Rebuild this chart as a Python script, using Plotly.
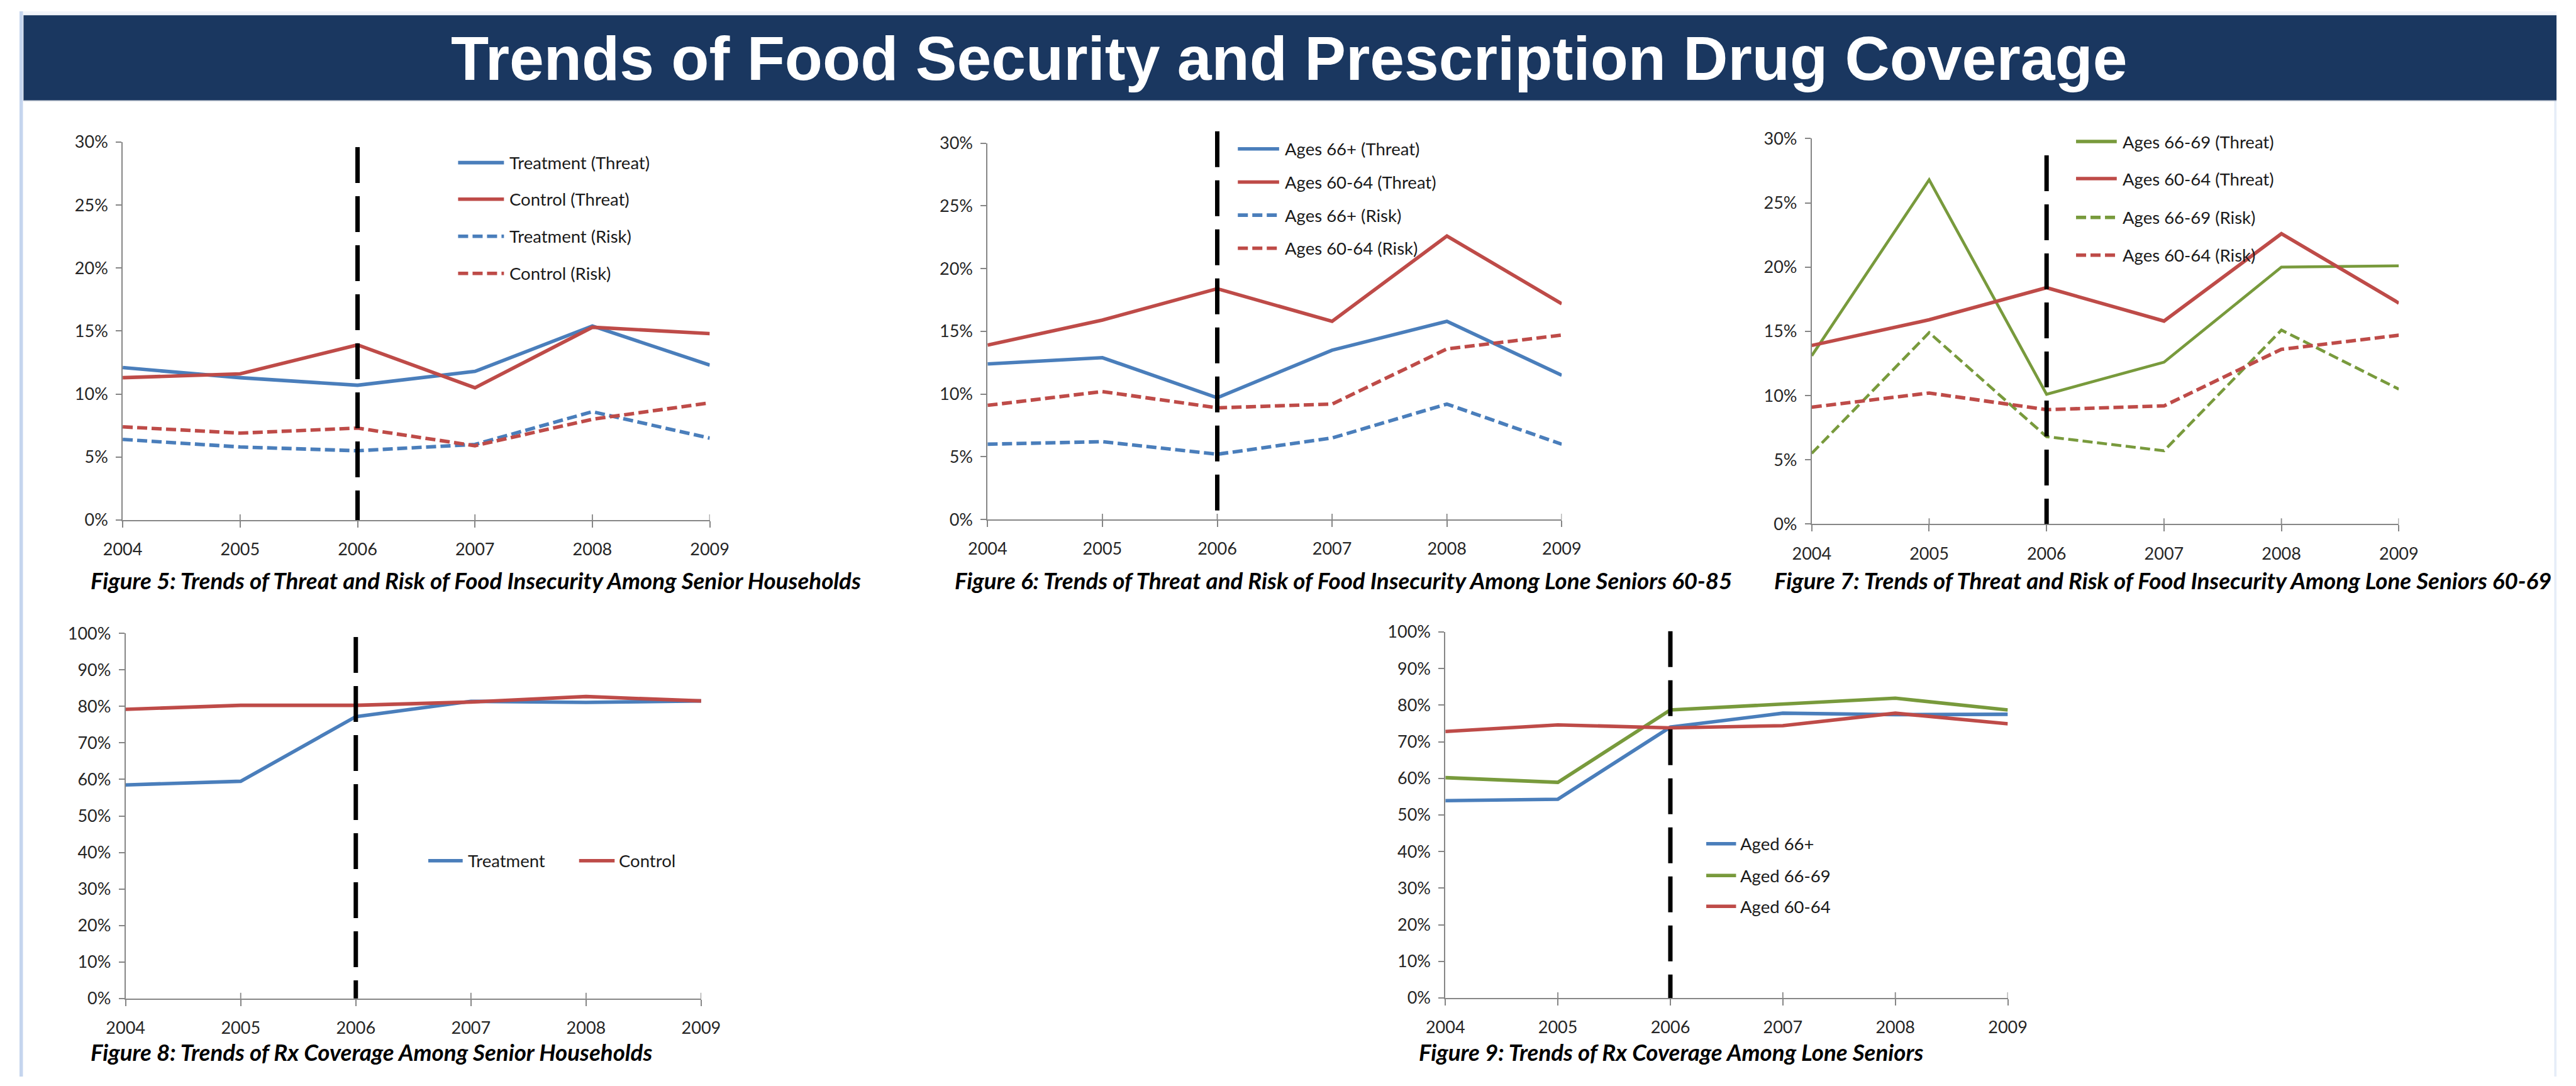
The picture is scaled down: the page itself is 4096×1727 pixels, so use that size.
import plotly.graph_objects as go

# ---------------- data ----------------
years = [2004, 2005, 2006, 2007, 2008, 2009]
year_labels = [str(y) for y in years]
cutoff_year = 2006

# Figure 5: senior households, food insecurity (%)
fig5_names = ["Treatment (Threat)", "Control (Threat)", "Treatment (Risk)", "Control (Risk)"]
fig5_treatment_threat = [12.1, 11.3, 10.7, 11.8, 15.4, 12.3]
fig5_control_threat = [11.3, 11.6, 13.9, 10.5, 15.3, 14.8]
fig5_treatment_risk = [6.4, 5.8, 5.5, 6.0, 8.6, 6.5]
fig5_control_risk = [7.4, 6.9, 7.3, 5.9, 8.0, 9.3]

# Figure 6: lone seniors 60-85 (%)
fig6_names = ["Ages 66+ (Threat)", "Ages 60-64 (Threat)", "Ages 66+ (Risk)", "Ages 60-64 (Risk)"]
fig6_66plus_threat = [12.4, 12.9, 9.7, 13.5, 15.8, 11.5]
fig6_6064_threat = [13.9, 15.9, 18.4, 15.8, 22.6, 17.2]
fig6_66plus_risk = [6.0, 6.2, 5.2, 6.5, 9.2, 6.0]
fig6_6064_risk = [9.1, 10.2, 8.9, 9.2, 13.6, 14.7]

# Figure 7: lone seniors 60-69 (%)
fig7_names = ["Ages 66-69 (Threat)", "Ages 60-64 (Threat)", "Ages 66-69 (Risk)", "Ages 60-64 (Risk)"]
fig7_6669_threat = [13.1, 26.8, 10.1, 12.6, 20.0, 20.1]
fig7_6064_threat = [13.9, 15.9, 18.4, 15.8, 22.6, 17.2]
fig7_6669_risk = [5.5, 14.9, 6.8, 5.7, 15.1, 10.5]
fig7_6064_risk = [9.1, 10.2, 8.9, 9.2, 13.6, 14.7]

# Figure 8: Rx coverage, senior households (%)
fig8_names = ["Treatment", "Control"]
fig8_treatment = [58.5, 59.5, 77.2, 81.4, 81.1, 81.5]
fig8_control = [79.2, 80.3, 80.3, 81.2, 82.7, 81.5]

# Figure 9: Rx coverage, lone seniors (%)
fig9_names = ["Aged 66+", "Aged 66-69", "Aged 60-64"]
fig9_66plus = [53.9, 54.3, 74.0, 77.8, 77.4, 77.5]
fig9_6669 = [60.2, 58.9, 78.7, 80.3, 81.9, 78.7]
fig9_6064 = [72.8, 74.6, 73.8, 74.4, 77.8, 74.9]

captions = [
    "Figure 5: Trends of Threat and Risk of Food Insecurity Among Senior Households",
    "Figure 6: Trends of Threat and Risk of Food Insecurity Among Lone Seniors 60-85",
    "Figure 7: Trends of Threat and Risk of Food Insecurity Among Lone Seniors 60-69",
    "Figure 8: Trends of Rx Coverage Among Senior Households",
    "Figure 9: Trends of Rx Coverage Among Lone Seniors",
]
title_text = "Trends of Food Security and Prescription Drug Coverage"
y_max = [30, 30, 30, 100, 100]
y_step = [5, 5, 5, 10, 10]
cutoff_top = [29.6, 30.95, 28.7, 99.0, 100.2]   # how far the 2006 marker reaches

# ---------------- styling / geometry ----------------
W, H = 4096, 1727
S = W / 4425.0


def fx(x):
    return x * S / W


def fy(y):
    return 1 - y * S / H


BLUE = "#4a7ebb"
RED = "#be4b48"
GREEN = "#789a3c"
AXIS = "#868686"
FONT = "Lato, Carlito, Calibri, sans-serif"
DOT = "16px,7px"
LW = 5.6
TICK_FONT = dict(family=FONT, size=27, color="#262626")

# plot boxes in reference pixels: x-left, x-right, y-top, y-bottom
boxes = [
    (180, 1204, 229, 891),
    (1688.5, 2690, 231, 890),
    (3126, 4150, 223, 898),
    (185, 1189, 1089.5, 1729),
    (2487, 3468, 1087, 1728),
]
caption_pos = [(122, 996.5), (1629, 996.5), (3058, 996.5), (122, 1822.7), (2439, 1822.7)]

series = [
    [(fig5_names[0], fig5_treatment_threat, BLUE, "solid", LW),
     (fig5_names[1], fig5_control_threat, RED, "solid", LW),
     (fig5_names[2], fig5_treatment_risk, BLUE, DOT, LW),
     (fig5_names[3], fig5_control_risk, RED, DOT, LW)],
    [(fig6_names[0], fig6_66plus_threat, BLUE, "solid", LW),
     (fig6_names[1], fig6_6064_threat, RED, "solid", LW),
     (fig6_names[2], fig6_66plus_risk, BLUE, DOT, LW),
     (fig6_names[3], fig6_6064_risk, RED, DOT, LW)],
    [(fig7_names[0], fig7_6669_threat, GREEN, "solid", 4.6),
     (fig7_names[1], fig7_6064_threat, RED, "solid", LW),
     (fig7_names[2], fig7_6669_risk, GREEN, DOT, 4.6),
     (fig7_names[3], fig7_6064_risk, RED, DOT, LW)],
    [(fig8_names[0], fig8_treatment, BLUE, "solid", LW),
     (fig8_names[1], fig8_control, RED, "solid", LW)],
    [(fig9_names[0], fig9_66plus, BLUE, "solid", LW),
     (fig9_names[1], fig9_6669, GREEN, "solid", LW),
     (fig9_names[2], fig9_6064, RED, "solid", LW)],
]

# legend placement (reference px): per entry line x0, line x1, text x, row y
legend_pos = [
    [(765, 845, 852, 265), (765, 845, 852, 329), (765, 845, 852, 394), (765, 845, 852, 459)],
    [(2125, 2197, 2205, 241), (2125, 2197, 2205, 299), (2125, 2197, 2205, 357), (2125, 2197, 2205, 415)],
    [(3587, 3658, 3666, 228), (3587, 3658, 3666, 293), (3587, 3658, 3666, 361), (3587, 3658, 3666, 427)],
    [(713, 773, 780, 1487.6), (976, 1038, 1043, 1487.6)],
    [(2942, 2994, 2999, 1458), (2942, 2994, 2999, 1513.5), (2942, 2994, 2999, 1567.6)],
]

fig = go.Figure()
shapes = []
annotations = []
layout_axes = {}

# background decorations
shapes.append(dict(type="rect", xref="paper", yref="paper", x0=0, x1=1, y0=fy(7), y1=1,
                   fillcolor="#f3f5fa", line=dict(width=0), layer="below"))
shapes.append(dict(type="rect", xref="paper", yref="paper", x0=0, x1=fx(6), y0=0, y1=1,
                   fillcolor="#c5d5ee", line=dict(width=0), layer="below"))
shapes.append(dict(type="rect", xref="paper", yref="paper", x0=fx(4421), x1=1, y0=0, y1=fy(156),
                   fillcolor="#e6edf8", line=dict(width=0), layer="below"))
shapes.append(dict(type="rect", xref="paper", yref="paper", x0=fx(7), x1=1, y0=fy(156), y1=fy(7),
                   fillcolor="#1a3760", line=dict(width=0), layer="below"))
shapes.append(dict(type="line", xref="paper", yref="paper", x0=fx(7), x1=1, y0=fy(156), y1=fy(156),
                   line=dict(color="#8393a8", width=1.5), layer="below"))

annotations.append(dict(text=title_text, xref="paper", yref="paper", x=fx(2214), y=fy(83),
                        xanchor="center", yanchor="middle", showarrow=False,
                        font=dict(family="Liberation Sans, Arial, sans-serif", size=98.5,
                                  color="white", weight=700)))

for i, (box, ser) in enumerate(zip(boxes, series), start=1):
    sfx = "" if i == 1 else str(i)
    xname, yname = "x" + sfx, "y" + sfx
    x0, x1, yt, yb = box
    plot_h = (yb - yt) * S
    layout_axes["xaxis" + sfx] = dict(
        domain=[fx(x0), fx(x1)], anchor=yname, range=[years[0], years[-1]],
        tickvals=years, ticktext=year_labels, showgrid=False, zeroline=False,
        showline=True, linecolor=AXIS, linewidth=1.8,
        ticks="outside", ticklen=10, tickwidth=1.8, tickcolor=AXIS,
        ticklabelstandoff=12, tickfont=TICK_FONT, fixedrange=True)
    layout_axes["yaxis" + sfx] = dict(
        domain=[fy(yb), fy(yt)], anchor=xname, range=[0, y_max[i - 1]],
        dtick=y_step[i - 1], tick0=0, ticksuffix="%", showgrid=False, zeroline=False,
        showline=True, linecolor=AXIS, linewidth=1.8,
        ticks="outside", ticklen=9, tickwidth=1.8, tickcolor=AXIS,
        ticklabelstandoff=7, tickfont=TICK_FONT, fixedrange=True)

    for name, vals, color, dash, width in ser:
        fig.add_trace(go.Scatter(x=years, y=vals, name=name, mode="lines",
                                 line=dict(color=color, width=width, dash=dash),
                                 xaxis=xname, yaxis=yname, showlegend=False,
                                 hoverinfo="skip"))

    # inner half of the crossing x ticks
    for yr in years[1:]:
        shapes.append(dict(type="line", xref=xname, yref=yname + " domain", x0=yr, x1=yr,
                           y0=0, y1=10 * S / plot_h, line=dict(color=AXIS, width=1.8),
                           layer="above"))

    # 2006 policy marker
    shapes.append(dict(type="line", xref=xname, yref=yname + " domain",
                       x0=cutoff_year, x1=cutoff_year,
                       y0=cutoff_top[i - 1] / y_max[i - 1], y1=0,
                       line=dict(color="black", width=7, dash="57px,21px"), layer="above"))

    # legend
    for (name, vals, color, dash, width), (lx0, lx1, tx, ry) in zip(ser, legend_pos[i - 1]):
        shapes.append(dict(type="line", xref="paper", yref="paper", x0=fx(lx0), x1=fx(lx1),
                           y0=fy(ry), y1=fy(ry),
                           line=dict(color=color, width=5.6, dash=dash)))
        annotations.append(dict(text=name, xref="paper", yref="paper", x=fx(tx), y=fy(ry),
                                xanchor="left", yanchor="middle", showarrow=False,
                                font=dict(family=FONT, size=27.5, color="#1a1a1a")))

    cx, cy = caption_pos[i - 1]
    annotations.append(dict(text=captions[i - 1], xref="paper", yref="paper", x=fx(cx), y=fy(cy),
                            xanchor="left", yanchor="middle", showarrow=False,
                            font=dict(family=FONT, size=36.7, color="black", weight=700,
                                      style="italic")))

fig.update_layout(
    width=W, height=H, margin=dict(l=0, r=0, t=0, b=0),
    paper_bgcolor="white", plot_bgcolor="rgba(0,0,0,0)",
    showlegend=False, shapes=shapes, annotations=annotations, **layout_axes)

fig.write_html("out.html")
